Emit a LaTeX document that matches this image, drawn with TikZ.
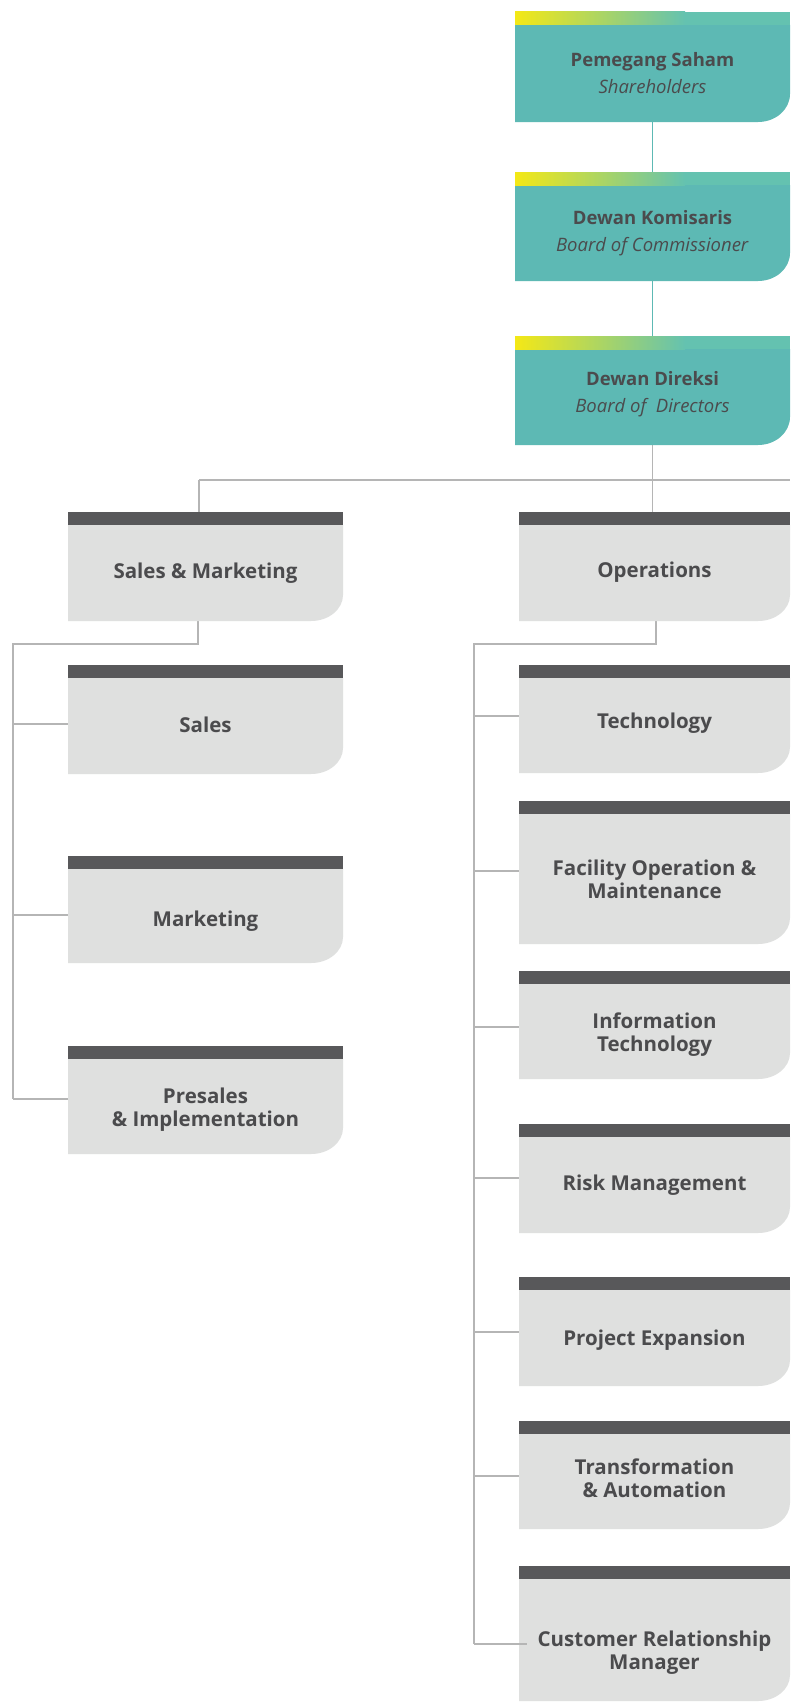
\documentclass[tikz,border=0pt]{standalone}
\usepackage{fontspec}
\setmainfont{Open Sans}
\usetikzlibrary{backgrounds}
\definecolor{tealbody}{HTML}{5DB9B4}
\definecolor{tealband}{HTML}{64C2B0}
\definecolor{yel}{HTML}{F4E816}
\definecolor{graybody}{HTML}{DFE0DF}
\definecolor{grayband}{HTML}{58585A}
\definecolor{txt}{HTML}{4B4B4D}
\definecolor{connc}{HTML}{B5B5B5}
\tikzset{
  bodynode/.style={rectangle, inner sep=0pt, outer sep=0pt, anchor=north west},
  graylabel/.style={inner sep=0pt, align=center, text=txt,
    font={\fontsize{20.5pt}{23pt}\selectfont\bfseries}},
  teallabel/.style={inner sep=0pt, align=center, text=txt,
    font={\fontsize{18.5pt}{27pt}\selectfont}},
  grayconn/.style={draw=connc, line width=1.3pt},
  tealconn/.style={draw=tealbody, line width=1.3pt}
}
% #1 name, #2 left x, #3 width, #4 band top y, #5 bottom y, #6 last baseline y, #7 text
\newcommand\graybox[7]{%
  \node[bodynode, minimum width=#3, minimum height={#5-#4-13}] (#1) at (#2,{#4+13}) {};
  \fill[graybody] (#1.north west) -- (#1.north east) -- ([yshift=26pt]#1.south east)
    arc[start angle=0, end angle=-90, x radius=32pt, y radius=26pt] -- (#1.south west) -- cycle;
  \fill[grayband] (#1.north west) rectangle ([yshift=13pt]#1.north east);
  \node[graylabel, anchor=base] (#1-t) at (#1.center |- 0,#6) {#7};
}
% #1 name, #2 band top y, #3 bottom y, #4 last baseline y, #5 bold, #6 italic
\newcommand\tealbox[6]{%
  \node[bodynode, minimum width=275, minimum height={#3-#2-13}] (#1) at (515,{#2+13}) {};
  \fill[tealbody] (#1.north west) -- (#1.north east) -- ([yshift=28pt]#1.south east)
    arc[start angle=0, end angle=-90, x radius=32pt, y radius=28pt] -- (#1.south west) -- cycle;
  \shade[left color=yel, right color=tealband] (#1.north west) rectangle ([xshift=170pt,yshift=13pt]#1.north west);
  \fill[tealband] ([xshift=169.5pt]#1.north west) rectangle ([yshift=13pt]#1.north east);
  \node[teallabel, anchor=base] (#1-t) at (#1.center |- 0,#4) {\textbf{#5}\\\textit{#6}};
}
\begin{document}
\begin{tikzpicture}[x=1pt, y=-1pt]
\useasboundingbox (0,0) rectangle (790,1702);

\tealbox{sh}{12}{122}{93}{Pemegang Saham}{Shareholders}
\tealbox{bc}{172}{281}{251}{Dewan Komisaris}{Board of Commissioner}
\tealbox{bd}{336}{445}{412}{Dewan Direksi}{Board of\ \ Directors}

\graybox{sm}{68}{275}{512}{621}{578}{Sales \& Marketing}
\graybox{sales}{68}{275}{665}{774}{732}{Sales}
\graybox{mkt}{68}{275}{856}{963}{926}{Marketing}
\graybox{pre}{68}{275}{1046}{1154}{1126}{Presales\\\& Implementation}

\graybox{ops}{519}{271}{512}{621}{577}{Operations}
\graybox{tech}{519}{271}{665}{773}{728}{Technology}
\graybox{fac}{519}{271}{801}{944}{898}{Facility Operation \&\\Maintenance}
\graybox{it}{519}{271}{971}{1079}{1051}{Information\\Technology}
\graybox{risk}{519}{271}{1124}{1233}{1190}{Risk Management}
\graybox{proj}{519}{271}{1277}{1386}{1345}{Project Expansion}
\graybox{trans}{519}{271}{1421}{1529}{1497}{Transformation\\\& Automation}
\graybox{crm}{519}{271}{1566}{1701}{1669}{Customer Relationship\\Manager}

\coordinate (busL) at (199,480);
\coordinate (busR) at (790,480);
\coordinate (smA) at (198,644);
\coordinate (smB) at (13,644);
\coordinate (lSales) at (13,724);
\coordinate (lMkt) at (13,915);
\coordinate (lPre) at (13,1099);
\coordinate (opA) at (656,644);
\coordinate (opB) at (474,644);
\coordinate (rTech) at (474,716);
\coordinate (rFac) at (474,871);
\coordinate (rIT) at (474,1027);
\coordinate (rRisk) at (474,1178);
\coordinate (rProj) at (474,1332);
\coordinate (rTrans) at (474,1476);
\coordinate (rCrm) at (474,1644);

\begin{scope}[on background layer]
  \fill[white] (0,0) rectangle (790,1702);
  \draw[tealconn] (sh.south) -- (bc.north);
  \draw[tealconn] (bc.south) -- (bd.north);
  \draw[grayconn] (bd.south) -- (bd.south |- busR);
  \draw[grayconn] (busL) -- (busR);
  \draw[grayconn] (busL) -- (busL |- sm.north);
  \draw[grayconn] (bd.south |- busR) -- (bd.south |- ops.north);
  \draw[grayconn] (smA |- sm.south) -- (smA) -- (smB) -- (lPre);
  \draw[grayconn] (lSales) -- (lSales -| sales.west);
  \draw[grayconn] (lMkt) -- (lMkt -| mkt.west);
  \draw[grayconn] (lPre) -- (lPre -| pre.west);
  \draw[grayconn] (opA |- ops.south) -- (opA) -- (opB) -- (rCrm);
  \draw[grayconn] (rTech) -- (rTech -| tech.west);
  \draw[grayconn] (rFac) -- (rFac -| fac.west);
  \draw[grayconn] (rIT) -- (rIT -| it.west);
  \draw[grayconn] (rRisk) -- (rRisk -| risk.west);
  \draw[grayconn] (rProj) -- (rProj -| proj.west);
  \draw[grayconn] (rTrans) -- (rTrans -| trans.west);
\end{scope}
\draw[grayconn] (rCrm) -- ([xshift=8pt]rCrm -| crm.west);
\end{tikzpicture}
\end{document}
